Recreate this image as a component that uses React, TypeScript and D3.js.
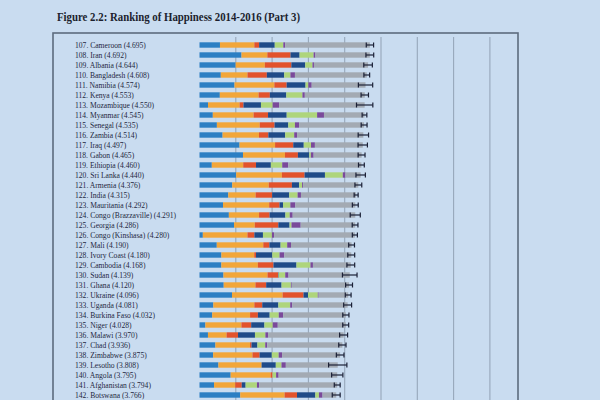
import React from "react";
import * as d3 from "d3";

const ranks = [107,108,109,110,111,112,113,114,115,116,117,118,119,120,121,122,123,124,125,126,127,128,129,130,131,132,133,134,135,136,137,138,139,140,141,142];
const countries = ["Cameroon","Iran","Albania","Bangladesh","Namibia","Kenya","Mozambique","Myanmar","Senegal","Zambia","Iraq","Gabon","Ethiopia","Sri Lanka","Armenia","India","Mauritania","Congo (Brazzaville)","Georgia","Congo (Kinshasa)","Mali","Ivory Coast","Cambodia","Sudan","Ghana","Ukraine","Uganda","Burkina Faso","Niger","Malawi","Chad","Zimbabwe","Lesotho","Angola","Afghanistan","Botswana"];
const scores = [4.695,4.692,4.644,4.608,4.574,4.553,4.550,4.545,4.535,4.514,4.497,4.465,4.460,4.440,4.376,4.315,4.292,4.291,4.286,4.280,4.190,4.180,4.168,4.139,4.120,4.096,4.081,4.032,4.028,3.970,3.936,3.875,3.808,3.795,3.794,3.766];
const gdp = [0.564,1.157,0.996,0.587,0.964,0.560,0.234,0.367,0.479,0.636,1.103,1.198,0.339,1.010,0.901,0.792,0.648,0.809,0.951,0.092,0.476,0.603,0.602,0.660,0.667,0.895,0.381,0.350,0.162,0.233,0.438,0.376,0.521,0.858,0.401,1.122];
const family = [0.946,0.712,0.804,0.735,1.098,1.068,0.871,1.123,1.180,1.003,0.979,1.156,0.865,1.260,1.007,0.754,1.272,0.832,0.571,1.229,1.281,0.905,1.006,1.214,0.874,1.395,1.130,1.043,0.993,0.513,0.954,1.083,1.190,1.104,0.582,1.222];
const health = [0.133,0.639,0.731,0.533,0.339,0.310,0.107,0.398,0.409,0.258,0.501,0.357,0.353,0.625,0.638,0.455,0.285,0.290,0.650,0.191,0.169,0.049,0.430,0.291,0.296,0.576,0.218,0.216,0.269,0.315,0.041,0.197,0.000,0.050,0.181,0.342];
const freedom = [0.430,0.249,0.381,0.478,0.520,0.453,0.481,0.514,0.378,0.462,0.289,0.313,0.409,0.561,0.198,0.470,0.096,0.435,0.309,0.236,0.307,0.448,0.633,0.015,0.423,0.123,0.443,0.324,0.364,0.467,0.162,0.336,0.391,0.000,0.106,0.505];
const generosity = [0.236,0.387,0.201,0.172,0.077,0.445,0.322,0.838,0.183,0.250,0.200,0.044,0.313,0.491,0.083,0.232,0.202,0.121,0.054,0.246,0.183,0.201,0.386,0.182,0.257,0.270,0.326,0.251,0.229,0.287,0.216,0.189,0.157,0.098,0.312,0.099];
const trust = [0.051,0.049,0.040,0.124,0.093,0.065,0.179,0.189,0.115,0.078,0.107,0.076,0.165,0.074,0.027,0.092,0.137,0.080,0.252,0.060,0.105,0.130,0.068,0.090,0.025,0.023,0.057,0.120,0.139,0.073,0.054,0.095,0.119,0.070,0.061,0.099];
const dystopia = [2.334,1.499,1.490,1.979,1.482,1.653,2.356,1.115,1.790,1.827,1.319,1.322,2.016,0.419,1.521,1.519,1.652,1.724,1.501,2.225,1.668,1.845,1.043,1.687,1.578,0.814,1.526,1.727,1.874,2.083,2.071,1.598,1.430,1.614,2.151,0.378];
const whiskerLow = [4.594,4.585,4.526,4.529,4.377,4.451,4.325,4.480,4.454,4.371,4.368,4.370,4.380,4.310,4.282,4.260,4.211,4.152,4.207,4.210,4.110,4.085,4.061,3.938,4.025,4.016,3.972,3.947,3.946,3.860,3.836,3.770,3.556,3.640,3.713,3.657];
const whiskerHigh = [4.796,4.799,4.762,4.687,4.771,4.655,4.775,4.610,4.616,4.657,4.626,4.560,4.540,4.570,4.470,4.370,4.373,4.430,4.365,4.350,4.270,4.275,4.275,4.340,4.215,4.176,4.190,4.117,4.110,4.080,4.036,3.980,4.060,3.950,3.875,3.875];

const seriesKeys = ["gdp","family","health","freedom","generosity","trust","dystopia"];
const seriesColors = ["#2c7fc3","#f2a63a","#e2532c","#1f4b88","#aed57c","#7a4a9a","#a3aab3"];
const gridTicks = [1,2,3,4,5,6,7,8];

const title = "Figure 2.2: Ranking of Happiness 2014-2016 (Part 3)";

export default function App() {
  const W = 600, H = 400;
  const x = d3.scaleLinear().domain([0, 8]).range([199.5, 489.9]);
  const y = d3.scaleLinear().domain([0, 1]).range([45, 55.0]);
  const table = ranks.map((r, i) => ({
    gdp: gdp[i], family: family[i], health: health[i], freedom: freedom[i],
    generosity: generosity[i], trust: trust[i], dystopia: dystopia[i],
  }));
  const stacked = d3.stack<any>().keys(seriesKeys)(table);
  const barH = 5.4;
  const font = "'Liberation Serif', 'DejaVu Serif', serif";
  return (
    <svg width={W} height={H} style={{ position: "absolute", left: 0, top: 0, display: "block" }}>
      <rect x={0} y={0} width={W} height={H} fill="#c9dcf0" />
      <text x={57} y={21} fontFamily={font} fontWeight="bold" fontSize={13.5} fill="#1c1f2e"
        textLength={243} lengthAdjust="spacingAndGlyphs">{title}</text>
      <rect x={53} y={33} width={465} height={400} fill="#c9dcf0" stroke="#5d6c7e" strokeWidth={1.6} />
      {gridTicks.map((t) => (
        <line key={t} x1={x(t)} x2={x(t)} y1={37} y2={H} stroke="#97a7ba" strokeWidth={1.1} />
      ))}
      {ranks.map((r, i) => (
        <text key={"l" + r} x={75} y={y(i) + 2.5} fontFamily={font} fontSize={7.6} fill="#1e2740">
          {`${r}. ${countries[i]} (${scores[i].toFixed(3)})`}
        </text>
      ))}
      {stacked.map((s, k) => (
        <g key={seriesKeys[k]} fill={seriesColors[k]}>
          {s.map((d, i) => (
            <rect key={i} x={x(d[0])} y={y(i) - barH / 2} width={Math.max(0, x(d[1]) - x(d[0]))} height={barH} />
          ))}
        </g>
      ))}
      {ranks.map((r, i) => (
        <g key={"w" + r} stroke="#1b2036" strokeWidth={1.2}>
          <line x1={x(whiskerLow[i])} x2={x(whiskerHigh[i])} y1={y(i)} y2={y(i)} />
          <line x1={x(whiskerLow[i])} x2={x(whiskerLow[i])} y1={y(i) - 2.5} y2={y(i) + 2.5} />
          <line x1={x(whiskerHigh[i])} x2={x(whiskerHigh[i])} y1={y(i) - 2.5} y2={y(i) + 2.5} />
        </g>
      ))}
    </svg>
  );
}
